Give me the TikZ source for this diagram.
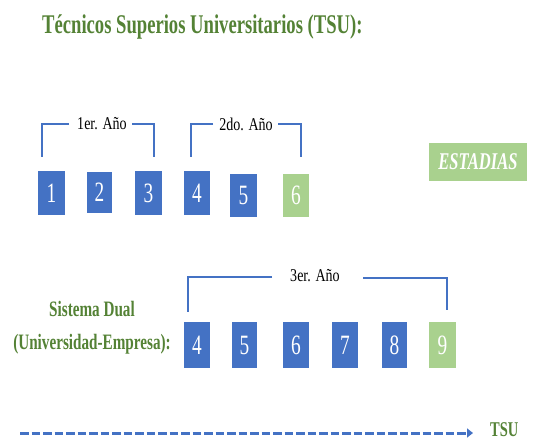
\documentclass[tikz,border=0pt]{standalone}
\usepackage{fontspec}
\setmainfont{Liberation Serif}
\newfontfamily\cond[FakeStretch=0.69]{Liberation Serif}
\newfontfamily\condl[FakeStretch=0.78]{Liberation Serif}
\usetikzlibrary{arrows.meta}
\definecolor{tblue}{HTML}{4472C4}
\definecolor{tgreen}{HTML}{A9D18E}
\definecolor{dgreen}{HTML}{548235}
\tikzset{
  bbox/.style={fill=tblue,draw=none,inner sep=0pt,text=white,font=\cond\fontsize{28}{28}\selectfont},
  gbox/.style={bbox,fill=tgreen},
  yearlbl/.style={inner sep=0pt,font=\condl\fontsize{18}{18}\selectfont},
  brk/.style={draw=tblue,line width=1.5pt},
  gtext/.style={text=dgreen,inner sep=0pt,font=\cond\bfseries\fontsize{22}{33}\selectfont,align=center},
}
\begin{document}
\begin{tikzpicture}[x=1pt,y=-1pt]
\useasboundingbox (0,0) rectangle (551,440);
% title
\node[gtext,anchor=base west,font=\cond\bfseries\fontsize{27}{27}\selectfont] (title) at (42,33) {Técnicos Superios Universitarios (TSU):};
% row 1
\node[bbox,minimum width=27pt,minimum height=44pt] (b1) at (51.5,193) {1};
\node[bbox,minimum width=25pt,minimum height=41pt] (b2) at (99.5,192.5) {2};
\node[bbox,minimum width=27pt,minimum height=44pt] (b3) at (148.5,193) {3};
\node[bbox,minimum width=26pt,minimum height=44pt] (b4) at (197,193) {4};
\node[bbox,minimum width=27pt,minimum height=43pt] (b5) at (243.5,195.5) {5};
\node[gbox,minimum width=26pt,minimum height=43pt] (b6) at (296,195.5) {6};
\node[gbox,minimum width=98pt,minimum height=38pt,font=\cond\bfseries\itshape\fontsize{24}{24}\selectfont] (est) at (478,162) {ESTADIAS};
% year labels row 1
\node[yearlbl] (l1) at (102,124) {1er. Año};
\node[yearlbl] (l2) at (246,124) {2do. Año};
\coordinate (a1) at (69,124); \coordinate (a2) at (42,157);
\coordinate (a3) at (132,124); \coordinate (a4) at (154,157);
\coordinate (c1) at (213,124); \coordinate (c2) at (191,157);
\coordinate (c3) at (278,124); \coordinate (c4) at (301,157);
\draw[brk] (a1) -| (a2);
\draw[brk] (a3) -| (a4);
\draw[brk] (c1) -| (c2);
\draw[brk] (c3) -| (c4);
% row 2
\node[bbox,minimum width=26pt,minimum height=46pt] (d4) at (197,345) {4};
\node[bbox,minimum width=25pt,minimum height=46pt] (d5) at (244.5,345) {5};
\node[bbox,minimum width=26pt,minimum height=46pt] (d6) at (296,345) {6};
\node[bbox,minimum width=26pt,minimum height=46pt] (d7) at (345,345) {7};
\node[bbox,minimum width=25pt,minimum height=46pt] (d8) at (394.5,345) {8};
\node[gbox,minimum width=27pt,minimum height=46pt] (d9) at (442.5,345) {9};
\node[yearlbl] (l3) at (315,276) {3er. Año};
\coordinate (e1) at (272,277); \coordinate (e2) at (188,312);
\coordinate (e3) at (363,278); \coordinate (e4) at (447,310);
\draw[brk] (e1) -| (e2);
\draw[brk] (e3) -| (e4);
% dual label
\node[gtext] (dual) at (92,328) {Sistema Dual\\(Universidad-Empresa):};
% arrow
\coordinate (s) at (20,433);
\node[gtext,font=\cond\bfseries\fontsize{21}{21}\selectfont,anchor=west] (tsu) at (490,430) {TSU};
\draw[draw=tblue,line width=3pt,dash pattern=on 8.5pt off 3pt,-{Triangle[length=6pt,width=9pt]}] (s) -- ([xshift=-17pt]tsu.west |- s);
\end{tikzpicture}
\end{document}
